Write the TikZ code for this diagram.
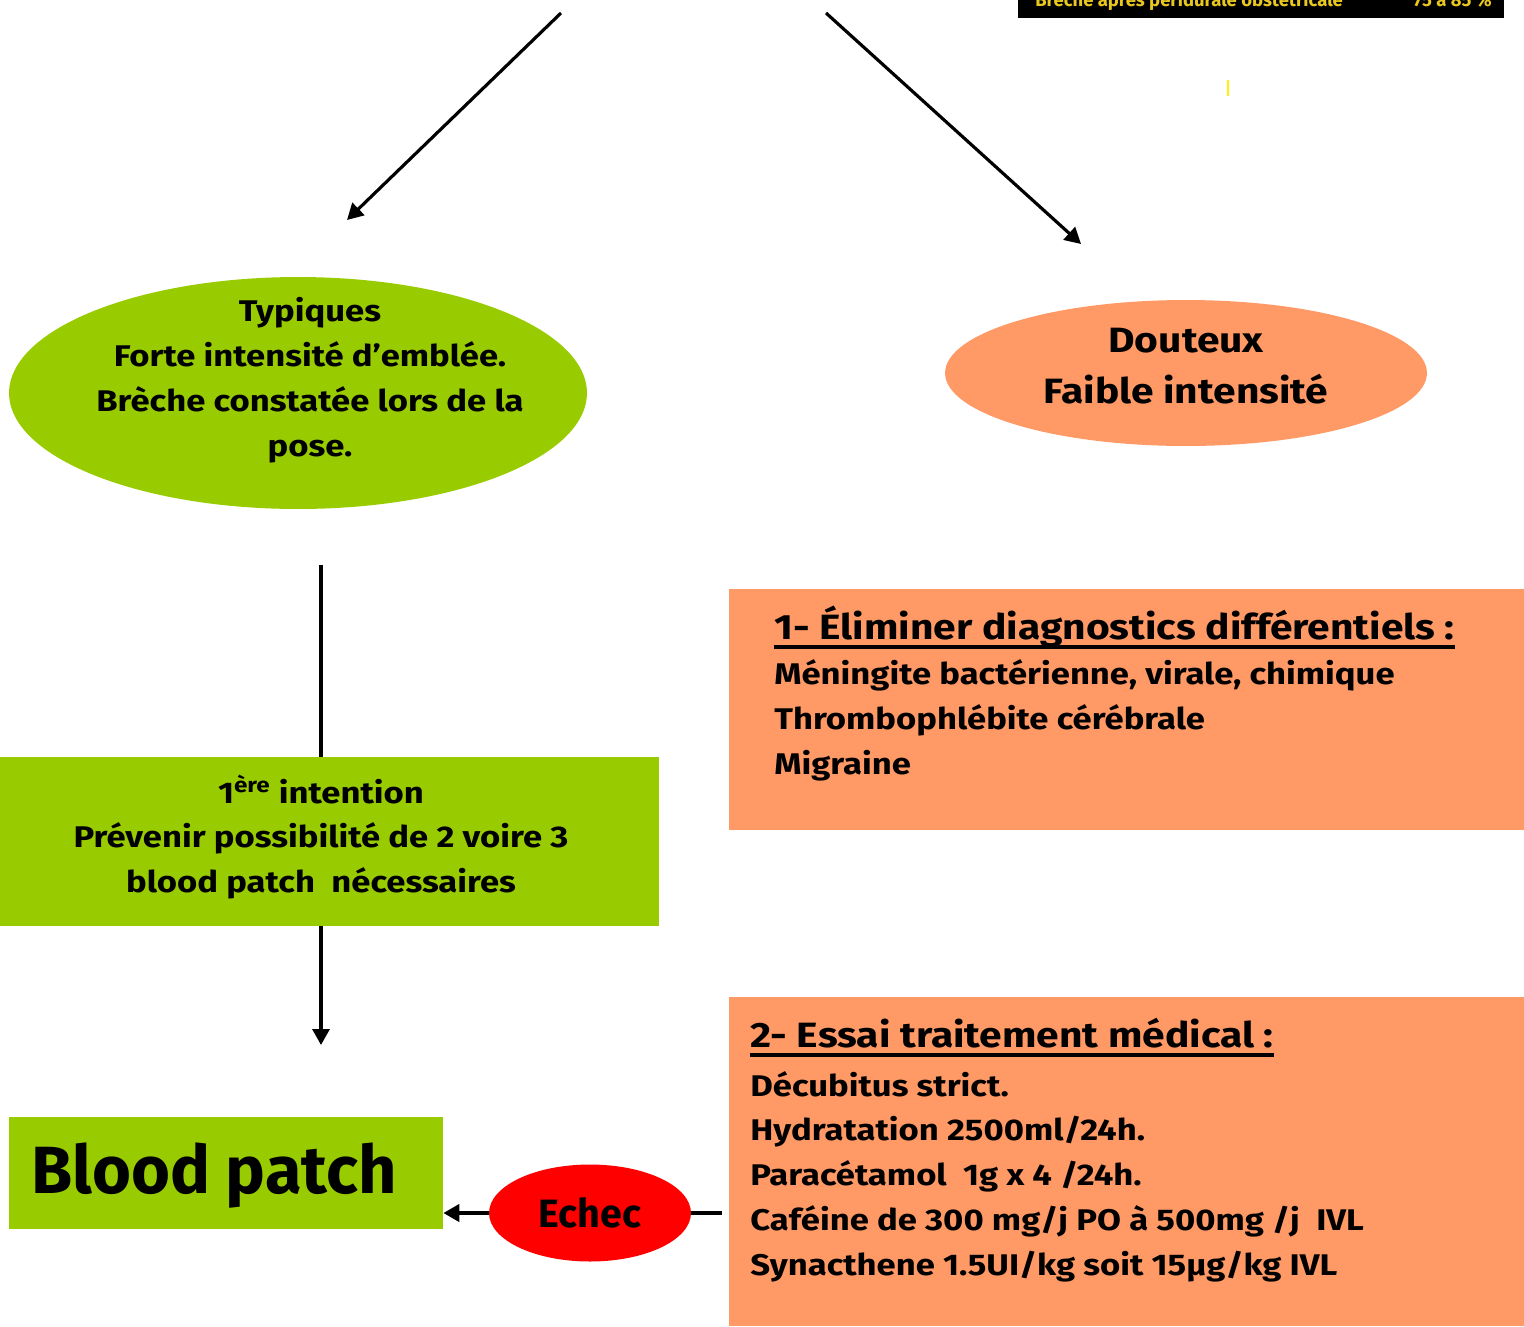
\documentclass[tikz,border=0pt]{standalone}
\usepackage{fontspec}
\setmainfont{Fira Sans}[FakeStretch=1.16]
\newfontfamily\droite{Fira Sans}
\usetikzlibrary{arrows.meta,shapes.geometric,positioning}
\definecolor{vertpomme}{RGB}{153,204,0}
\definecolor{saumon}{RGB}{255,153,102}
\definecolor{rouge}{RGB}{255,0,0}
\definecolor{jaune}{RGB}{232,200,30}
\newcommand{\souligne}[1]{\setbox0\hbox{#1}\rlap{\rule[-5pt]{\wd0}{2.2pt}}\box0}

\begin{document}
\begin{tikzpicture}[x=0.02cm, y=-0.02cm,
        oval/.style = {ellipse, inner sep=0pt, align=center, font=\bfseries\fontsize{17}{25.5}\selectfont},
        boite/.style = {rectangle, inner sep=0pt, draw=none},
        texte/.style = {inner sep=0pt, align=left, font=\bfseries\fontsize{17}{25.5}\selectfont},
        fleche/.style = {-{Triangle[length=0.32cm, width=0.34cm]}, line width=1.8pt}]
    \useasboundingbox (0,0) rectangle (1524,1326);

    % bandeau du haut (coupe)
    \fill[black] (1018,-5) rectangle (1504,18);
    \begin{scope}
    \clip (1018,0) rectangle (1504,18);
    \node[anchor=base west, inner sep=0pt, text=jaune, font=\droite\bfseries\fontsize{10.5}{12}\selectfont] (titre) at (1035,6) {Brèche après péridurale obstétricale};
    \node[anchor=base east, inner sep=0pt, text=jaune, font=\droite\bfseries\fontsize{10.5}{12}\selectfont] (taux) at (1492,6) {75 à 85 \%};
    \end{scope}
    \draw[yellow, line width=1.2pt] (1228,80) -- (1228,96);

    \coordinate (g0) at (561,13);
    \coordinate (g1) at (347,220);
    \coordinate (d0) at (826,13);
    \coordinate (d1) at (1081,244);
    \draw[fleche] (g0) -- (g1);
    \draw[fleche] (d0) -- (d1);

    \node[oval, fill=vertpomme, minimum width=11.56cm, minimum height=4.64cm] (typ) at (298,393) {};
    \node[texte, align=center] (typtxt) at (310,380) {Typiques\\Forte intensité d’emblée.\\Brèche constatée lors de la\\pose.};

    \node[oval, fill=saumon, minimum width=9.64cm, minimum height=2.92cm] (dout) at (1186,373) {};
    \node[texte, align=center, font=\bfseries\fontsize{20}{29}\selectfont] (douttxt) at (1186,366) {Douteux\\Faible intensité};

    \node[boite, fill=vertpomme, minimum width=13.18cm, minimum height=3.38cm] (inten) at (329.5,841.5) {};
    \node[texte, align=center] (intentxt) at (321,837) {1\textsuperscript{ère} intention\\Prévenir possibilité de 2 voire 3\\blood patch\ \ nécessaires};

    \coordinate (v0) at (321,565);
    \coordinate (v1) at (321,1045);
    \draw[line width=1.8pt] (v0) -- (v0 |- inten.north);
    \draw[fleche] (v0 |- inten.south) -- (v1);

    \node[boite, fill=vertpomme, minimum width=8.68cm, minimum height=2.24cm] (bp) at (226,1173) {};
    \node[anchor=west, inner sep=0pt, font=\droite\bfseries\fontsize{38}{45}\selectfont] (bptxt) at (31,1176) {Blood patch};

    \node[oval, fill=rouge, minimum width=4.04cm, minimum height=1.94cm, font=\droite\bfseries\fontsize{22.5}{28}\selectfont] (echec) at (590,1213) {Echec};

    \node[boite, fill=saumon, minimum width=15.9cm, minimum height=4.82cm] (elim) at (1126.5,709.5) {};
    \node[texte, anchor=north west] (elimtxt) at (774,606) {{\fontsize{20}{25.5}\selectfont\souligne{1- Éliminer diagnostics différentiels :}}\\Méningite bactérienne, virale, chimique\\Thrombophlébite cérébrale\\Migraine};

    \node[boite, fill=saumon, minimum width=15.9cm, minimum height=6.58cm] (essai) at (1126.5,1161.5) {};
    \node[texte, anchor=north west] (essaitxt) at (750,1018) {{\fontsize{20}{25.5}\selectfont\souligne{2- Essai traitement médical :}}\\[2pt]Décubitus strict.\\Hydratation 2500ml/24h.\\Paracétamol\ \ 1g x 4 /24h.\\Caféine de 300 mg/j PO à 500mg /j\ \ IVL\\Synacthene 1.5UI/kg soit 15µg/kg IVL};

    \coordinate (e0) at (722,1213);
    \draw[line width=2.3pt] (e0) -- (echec.east);
    \draw[fleche, line width=2.3pt] (echec.west) -- (bp.east |- echec.west);
\end{tikzpicture}
\end{document}
